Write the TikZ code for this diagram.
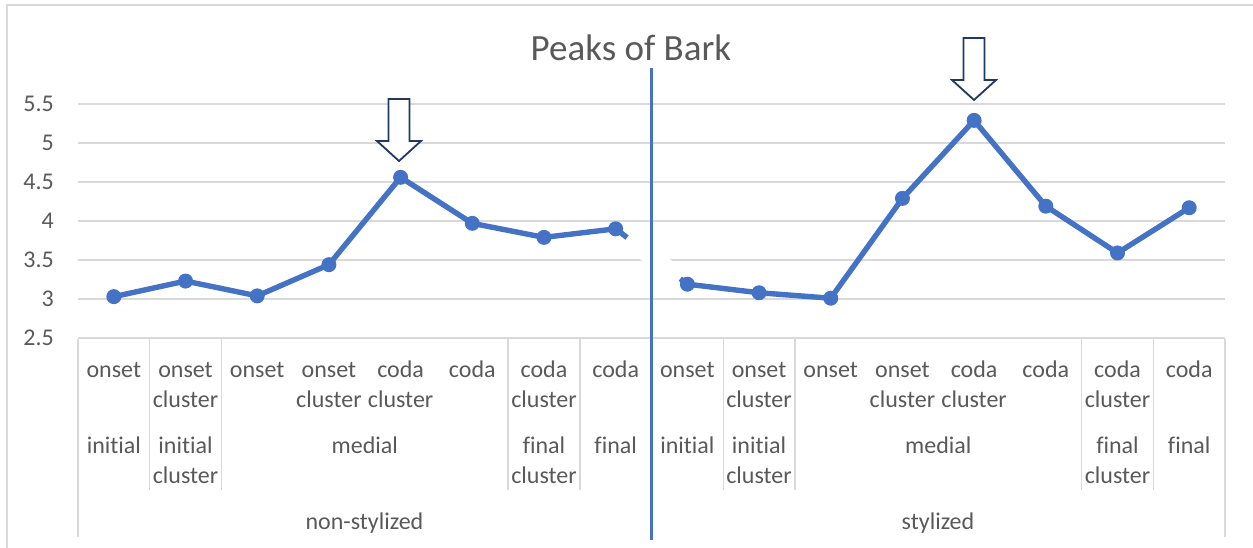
\documentclass[tikz,border=0pt]{standalone}
\usepackage{fontspec}
\setmainfont{Carlito}[Ligatures=NoCommon]
\usetikzlibrary{calc,positioning}
\definecolor{axisgray}{RGB}{89,89,89}
\definecolor{gridgray}{RGB}{217,217,217}
\definecolor{barkblue}{RGB}{68,114,196}
\definecolor{peaknavy}{RGB}{31,56,100}

\begin{document}
\begin{tikzpicture}[x=1pt,y=-1pt,
    gridline/.style={gridgray,line width=1.4pt},
    barkline/.style={barkblue,line width=5.4pt,line join=round},
    barkdot/.style={circle,fill=barkblue,inner sep=0pt,minimum size=15pt},
    catlabel/.style={text=axisgray,font=\fontsize{24}{30}\selectfont,align=center,anchor=north,inner sep=0pt},
    ticklabel/.style={text=axisgray,font=\fontsize{24}{30}\selectfont,anchor=east,inner sep=0pt},
    peakarrow/.style={draw=peaknavy,line width=1.8pt,fill=white,line join=miter}]
  \useasboundingbox (0,0) rectangle (1253,548);
  % chart frame
  \draw[gridline] (7,548) -- (7,5) -- (1253,5);
  \node[text=axisgray,font=\fontsize{37}{44}\selectfont,anchor=base] (title) at (631,61) {Peaks of Bark};
  % value axis + grid
  \foreach \v [count=\k] in {2.5,3,3.5,4,4.5,5,5.5} {
    \draw[gridline] (78,{299-(\v-3)*78}) -- (1225,{299-(\v-3)*78});
    \node[ticklabel] (tick\k) at (54,{299-(\v-3)*78}) {\v};
  }
  % category table
  \foreach \b in {1,2,6,7,9,10,14,15}
    \draw[gridline] ({78+71.69*\b},339) -- ({78+71.69*\b},490);
  \draw[gridline] (78,339) -- (78,537);
  \draw[gridline] (1225,339) -- (1225,537);
  \foreach \s/\off in {n/0,s/573.5} {
    \foreach \lab [count=\i] in {onset,{onset\\cluster},onset,{onset\\cluster},{coda\\cluster},coda,{coda\\cluster},coda}
      \node[catlabel] (syl-\s\i) at ({\off+78+71.69*(\i-0.5)},356) {\rule{0pt}{21pt}\lab};
    \foreach \lab/\c [count=\i] in {initial/1,{initial\\cluster}/2,medial/4.5,{final\\cluster}/7,final/8}
      \node[catlabel] (pos-\s\i) at ({\off+78+71.69*(\c-0.5)},432) {\rule{0pt}{21pt}\lab};
  }
  \node[catlabel] (style-n) at (364.5,508) {\rule{0pt}{21pt}non-stylized};
  \node[catlabel] (style-s) at (938,508) {\rule{0pt}{21pt}stylized};
  % data
  \foreach \v [count=\i] in {3.03,3.23,3.04,3.44,4.56,3.97,3.79,3.90,3.19,3.08,3.01,4.29,5.29,4.19,3.59,4.17}
    \coordinate (p\i) at ({78+71.69*(\i-0.5)},{299-(\v-3)*78});
  \draw[barkline] (p1) \foreach \i in {2,...,9} { -- (p\i) };
  \draw[white,line width=18pt] ($(p8)!0.16!(p9)$) -- ($(p8)!0.9!(p9)$);
  \draw[barkline] (p9) \foreach \i in {10,...,16} { -- (p\i) };
  \draw[barkblue,line width=3pt] (651,68) -- (651,540);
  \foreach \i in {1,...,16} \node[barkdot] (dot\i) at (p\i) {};
  % peak markers
  \foreach \ax/\ay in {399/99,974/38}
    \draw[peakarrow] (\ax-10.5,\ay) -- (\ax+10.5,\ay) -- (\ax+10.5,\ay+42) -- (\ax+22,\ay+42)
      -- (\ax,\ay+62) -- (\ax-22,\ay+42) -- (\ax-10.5,\ay+42) -- cycle;
\end{tikzpicture}
\end{document}
